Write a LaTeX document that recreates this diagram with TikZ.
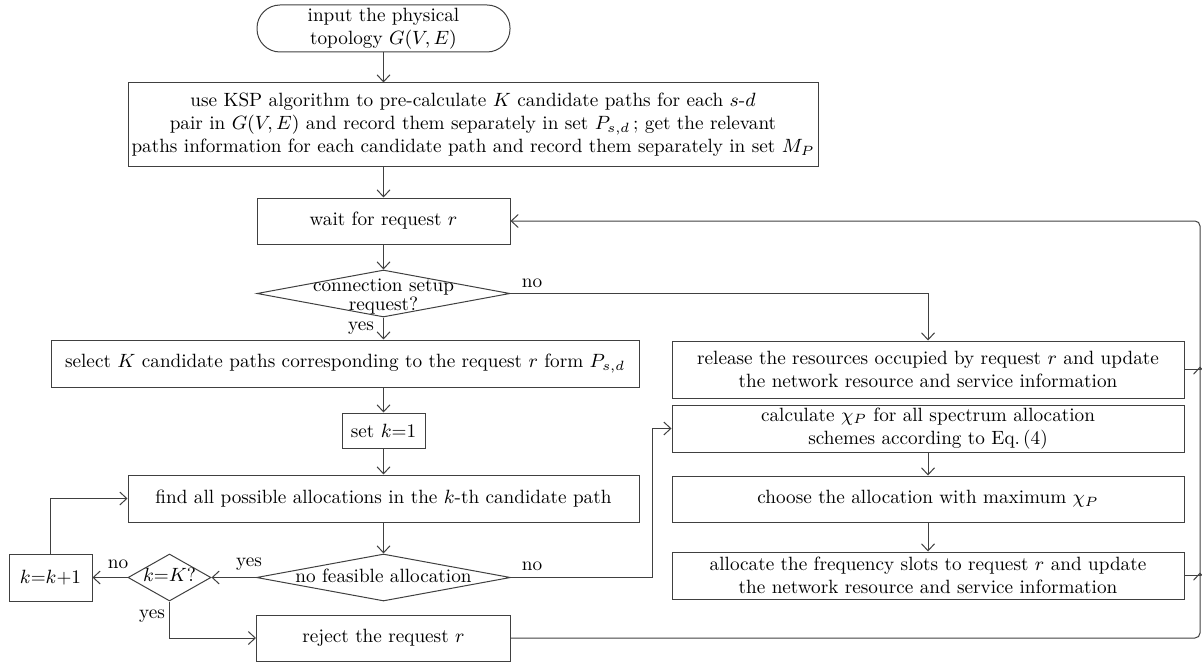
\RequirePackage{fix-cm}
\documentclass[tikz,border=0pt]{standalone}
\usepackage{fontspec}
\usetikzlibrary{shapes.geometric,arrows.meta}

\newcommand{\dtext}[2][-2.5pt]{\makebox[0pt]{\smash{\raisebox{#1}{\renewcommand\arraystretch{0.8}\begin{tabular}[c]{@{}c@{}}#2\end{tabular}}}}}

\begin{document}
\begin{tikzpicture}[x=0.5pt, y=-0.5pt,
  font=\fontsize{9.6pt}{11.5pt}\selectfont,
  >={Straight Barb[length=3.5pt,width=6.5pt]},
  arr/.style={->, draw=black!75, line width=0.5pt},
  box/.style={rectangle, draw=black!75, line width=0.5pt, inner sep=0pt, align=center},
  term/.style={box, rounded corners=11.5pt},
  dec/.style={diamond, draw=black!75, line width=0.5pt, inner sep=0pt},
  lbl/.style={inner sep=0pt}]
\useasboundingbox (0,0) rectangle (1202,663);

% main column
\node[term, minimum width=126.5pt, minimum height=23.5pt] (start) at (383.5,28.5) {input the physical\\topology $G(V, E)$};
\node[box, minimum width=345pt, minimum height=42pt] (ksp) at (473,125) {use KSP algorithm to pre-calculate $K$ candidate paths for each $s$-$d$\\pair in $G(V, E)$ and record them separately in set $P_{s,d}$\,; get the relevant\\paths information for each candidate path and record them separately in set $M_P$};
\node[box, minimum width=126.5pt, minimum height=23pt] (wait) at (383.5,221) {wait for request $r$};
\node[dec, minimum width=126.5pt, minimum height=23.5pt] (conn) at (383.5,293.5) {\dtext[-4.5pt]{connection setup\\request?}};
\node[box, minimum width=294pt, minimum height=23.5pt] (sel) at (345,363.5) {select $K$ candidate paths corresponding to the request $r$ form $P_{s,d}$};
\node[box, minimum width=41.5pt, minimum height=17.5pt] (setk) at (383.5,430.5) {set $k$=1};
\node[box, minimum width=255.5pt, minimum height=23.5pt] (find) at (383.5,498.5) {find all possible allocations in the $k$-th candidate path};
\node[dec, minimum width=127pt, minimum height=23.5pt] (nf) at (383.5,577.5) {\dtext[-3pt]{no feasible allocation}};
\node[dec, minimum width=41.5pt, minimum height=23.5pt] (kK) at (169.5,577.5) {\dtext{$k$=$K$?}};
\node[box, minimum width=41.5pt, minimum height=23.5pt] (kinc) at (50.5,577.5) {$k$=$k$+1};
\node[box, minimum width=127pt, minimum height=23pt] (rej) at (383.5,638) {reject the request $r$};

% right column
\node[box, minimum width=256pt, minimum height=28.5pt] (rel) at (928,369.5) {release the resources occupied by request $r$ and update\\the network resource and service information};
\node[box, minimum width=256pt, minimum height=23.5pt] (calc) at (928,428.5) {calculate $\chi_P$ for all spectrum allocation\\schemes according to Eq.\,(4)};
\node[box, minimum width=256pt, minimum height=23pt] (choose) at (928,499) {choose the allocation with maximum $\chi_P$};
\node[box, minimum width=256pt, minimum height=23.5pt] (alloc) at (928,575.5) {allocate the frequency slots to request $r$ and update\\the network resource and service information};

\coordinate (rt) at (1200,221);
\coordinate (nbend) at (652,577.5);

\draw[arr] (start.south) -- (start.south |- ksp.north);
\draw[arr] (wait.north |- ksp.south) -- (wait.north);
\draw[arr] (wait.south) -- (conn.north);
\draw[arr] (conn.south) -- (conn.south |- sel.north);
\draw[arr] (conn.east) -| (rel.north);
\draw[arr] (setk.north |- sel.south) -- (setk.north);
\draw[arr] (setk.south) -- (find.north);
\draw[arr] (find.south) -- (nf.north);
\draw[arr] (nf.west) -- (kK.east);
\draw[arr] (kK.west) -- (kinc.east);
\draw[arr] (kinc.north) |- (find.west);
\draw[arr] (kK.south) |- (rej.west);
\draw[arr] (nf.east) -- (nbend) |- (calc.west);
\draw[arr] (calc.south) -- (choose.north);
\draw[arr] (choose.south) -- (alloc.north);
% back to waiting
\draw[arr, rounded corners=2.5pt] (rej.east) -| (rt) -- (wait.east);
\draw[arr] (rel.east) -| ([yshift=1.5pt]rt |- rel.east);
\draw[arr] (alloc.east) -| ([yshift=1.5pt]rt |- alloc.east);

\node[lbl] (yes1) at (361,328) {yes};
\node[lbl] (no1) at (532,283) {no};
\node[lbl] (yes2) at (249,564) {yes};
\node[lbl] (no2) at (532,566) {no};
\node[lbl] (no3) at (118,564) {no};
\node[lbl] (yes3) at (152,616) {yes};
\end{tikzpicture}
\end{document}
